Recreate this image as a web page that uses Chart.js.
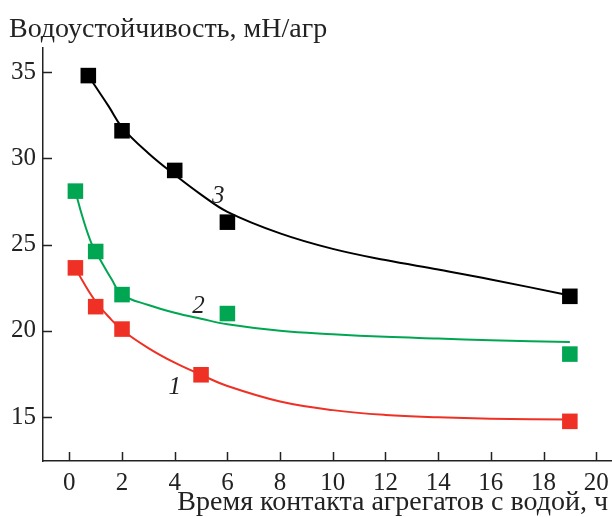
<!DOCTYPE html>
<html>
<head>
<meta charset="utf-8">
<script src="https://cdn.jsdelivr.net/npm/chart.js@4/dist/chart.umd.min.js"></script>
<style>
  body { margin: 0; background: #fff; }
  canvas { display: block; }
</style>
</head>
<body>
<canvas id="chart" width="612" height="517"></canvas>
<script>
// measured points (hours, mN/aggregate)
const ptX1 = [0.23, 1, 2, 5, 19];
const ptY1 = [23.65, 21.4, 20.1, 17.45, 14.75];
const ptX2 = [0.23, 1, 2, 6, 19];
const ptY2 = [28.1, 24.6, 22.1, 21.0, 18.65];
const ptX3 = [0.72, 2, 4, 6, 19];
const ptY3 = [34.8, 31.6, 29.3, 26.3, 22.0];

// fitted curves
const curveX1 = [0.23, 0.5, 1, 1.5, 2, 3, 4, 5, 6, 8, 10, 12, 14, 16, 19];
const curveY1 = [23.65, 22.9, 21.7, 20.8, 20.05, 19.0, 18.15, 17.45, 16.8, 15.9, 15.4, 15.12, 14.98, 14.9, 14.85];
const curveX2 = [0.23, 0.5, 0.86, 1.2, 1.6, 2, 3, 4, 5, 6, 8, 10, 12, 14, 16, 19];
const curveY2 = [28.1, 26.6, 25.0, 24.05, 23.0, 22.1, 21.5, 21.05, 20.7, 20.38, 20.0, 19.8, 19.65, 19.55, 19.45, 19.35];
const curveX3 = [0.72, 1, 1.5, 2, 3, 4, 5, 6, 8, 10, 12, 14, 16, 19];
const curveY3 = [34.8, 34.15, 33.0, 31.8, 30.3, 29.05, 27.9, 26.9, 25.65, 24.75, 24.1, 23.55, 22.98, 22.05];

const xTicks = [0, 2, 4, 6, 8, 10, 12, 14, 16, 18, 20];
const yTicks = [15, 20, 25, 30, 35];

const curveNames = ["1", "2", "3"];
const curveNameX = [4.0, 4.9, 5.65];
const curveNameY = [16.7, 21.4, 27.8];

const yTitle = "Водоустойчивость, мН/агр";
const xTitle = "Время контакта агрегатов с водой, ч";

const RED = "#ee3124";
const GREEN = "#00a651";
const BLACK = "#000000";
const SERIF = "'Liberation Serif', 'Times New Roman', serif";

const toXY = (xs, ys) => xs.map((x, i) => ({ x: x, y: ys[i] }));

function curve(xs, ys, color) {
  return {
    data: toXY(xs, ys),
    showLine: true,
    borderColor: color,
    borderWidth: 2,
    pointRadius: 0,
    tension: 0.4,
    fill: false,
  };
}

function points(xs, ys, color) {
  return {
    data: toXY(xs, ys),
    showLine: false,
    pointStyle: "rect",
    pointRadius: 11,
    pointBorderWidth: 0,
    pointBackgroundColor: color,
    pointBorderColor: color,
  };
}

// inward ticks, axis titles and curve numbers
const extras = {
  id: "extras",
  afterDraw(chart) {
    const ctx = chart.ctx;
    const xs = chart.scales.x;
    const ys = chart.scales.y;
    const area = chart.chartArea;
    ctx.save();
    ctx.strokeStyle = "#222";
    ctx.lineWidth = 1.5;
    ctx.beginPath();
    xTicks.forEach((v) => {
      const px = Math.round(xs.getPixelForValue(v)) + 0.5;
      ctx.moveTo(px, area.bottom);
      ctx.lineTo(px, area.bottom - 9);
    });
    yTicks.forEach((v) => {
      const py = Math.round(ys.getPixelForValue(v)) + 0.5;
      ctx.moveTo(area.left, py);
      ctx.lineTo(area.left + 9, py);
    });
    ctx.stroke();

    ctx.fillStyle = "#222";
    ctx.font = "28px " + SERIF;
    ctx.textBaseline = "alphabetic";
    ctx.textAlign = "left";
    ctx.fillText(yTitle, 9, 37);
    ctx.textAlign = "right";
    ctx.fillText(xTitle, 608, 510);

    ctx.font = "italic 25px " + SERIF;
    ctx.textAlign = "center";
    ctx.textBaseline = "middle";
    curveNames.forEach((t, i) => {
      ctx.fillText(t, xs.getPixelForValue(curveNameX[i]), ys.getPixelForValue(curveNameY[i]));
    });
    ctx.restore();
  },
};

new Chart(document.getElementById("chart"), {
  type: "scatter",
  data: {
    datasets: [
      curve(curveX1, curveY1, RED),
      curve(curveX2, curveY2, GREEN),
      curve(curveX3, curveY3, BLACK),
      points(ptX1, ptY1, RED),
      points(ptX2, ptY2, GREEN),
      points(ptX3, ptY3, BLACK),
    ],
  },
  options: {
    responsive: false,
    animation: false,
    layout: { autoPadding: false, padding: { top: 48, right: 0, left: 0, bottom: 0 } },
    plugins: {
      legend: { display: false },
      tooltip: { enabled: false },
    },
    scales: {
      x: {
        type: "linear",
        min: -1,
        max: 20.6,
        afterBuildTicks: (s) => { s.ticks = xTicks.map((v) => ({ value: v })); },
        afterFit: (s) => { s.height = 56; s.paddingLeft = 0; s.paddingRight = 0; },
        grid: { drawOnChartArea: false, drawTicks: false },
        border: { color: "#222", width: 1.5 },
        ticks: { color: "#222", font: { family: SERIF, size: 25 }, padding: 7, maxRotation: 0 },
      },
      y: {
        type: "linear",
        min: 12.45,
        max: 36.4,
        afterBuildTicks: (s) => { s.ticks = yTicks.map((v) => ({ value: v })); },
        afterFit: (s) => { s.width = 43; s.paddingTop = 0; s.paddingBottom = 0; },
        grid: { drawOnChartArea: false, drawTicks: false },
        border: { color: "#222", width: 1.5 },
        ticks: { color: "#222", font: { family: SERIF, size: 25 }, padding: 7 },
      },
    },
  },
  plugins: [extras],
});
</script>
</body>
</html>
